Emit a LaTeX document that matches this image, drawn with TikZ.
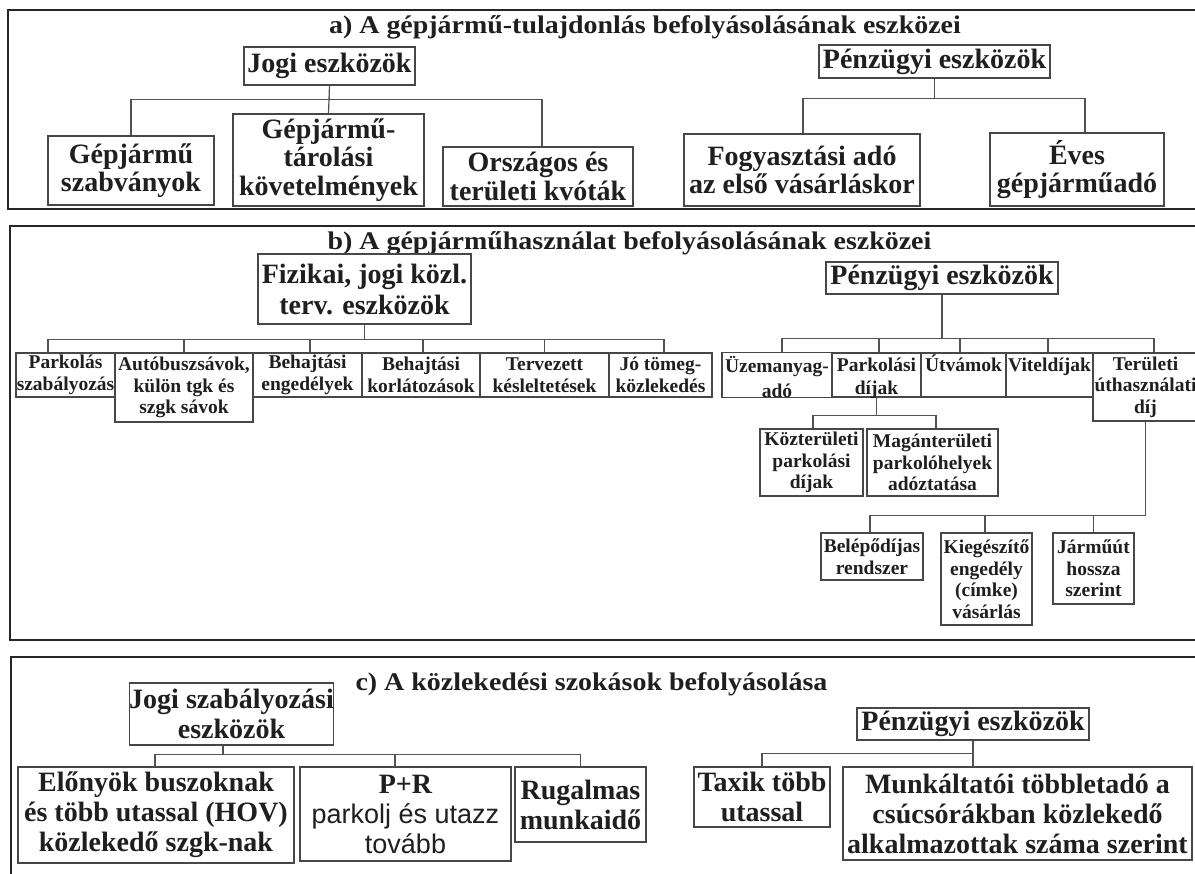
\documentclass[tikz,border=0pt]{standalone}
\usepackage{fontspec}
\setmainfont{Liberation Serif}
\newfontfamily\arialf{Liberation Sans}
\newfontfamily\widefont{Liberation Serif}[FakeStretch=1.1]
\begin{document}
\begin{tikzpicture}[x=1pt,y=-1pt,
  frame/.style={draw=black!85, line width=2.6pt},
  box/.style={draw=black!72, line width=1.3pt, inner sep=0pt, align=center, text=black!88,
    font=\bfseries\fontsize{28}{28.5}\selectfont},
  sbox/.style={box, font=\bfseries\fontsize{19.5}{21.5}\selectfont},
  sz/.style 2 args={minimum width=#1pt, minimum height=#2pt},
  conn/.style={draw=black!68, line width=1.2pt},
  ttl/.style={anchor=base, inner sep=0pt, text=black!88, font=\widefont\bfseries\fontsize{25.4}{27}\selectfont}
]
\useasboundingbox (0,0) rectangle (1195,874);
\clip (0,0) rectangle (1195,874);
\fill[white] (0,0) rectangle (1195,874);

% frames
\draw[frame] (1210,10) -- (8,10) -- (8,209) -- (1210,209);
\draw[frame] (1210,226) -- (10,226) -- (10,640) -- (1210,640);
\draw[frame] (1210,657) -- (11,657) -- (11,890);

% ---------- a) ----------
\node[ttl] (titleA) at (645,34) {a) A gépjármű-tulajdonlás befolyásolásának eszközei};
\node[box, sz={171}{38}] (jogiA) at (329.5,66) {Jogi eszközök};
\node[box, sz={166}{69}] (gepA) at (131,170.5) {Gépjármű\\szabványok};
\node[box, sz={191}{92}] (tarolA) at (328.5,160) {Gépjármű-\\tárolási\\követelmények};
\node[box, sz={190}{59}] (orszA) at (538,176.5) {Országos és\\területi kvóták};
\node[box, sz={231}{33}] (penzA) at (934.5,61.5) {Pénzügyi eszközök};
\node[box, sz={236}{72}] (fogyA) at (802,170) {Fogyasztási adó\\az első vásárláskor};
\node[box, sz={174}{73}] (evesA) at (1077,169.5) {Éves\\gépjárműadó};

\draw[conn] (jogiA.south) -- ++(0,14) -| (gepA.north);
\draw[conn] (jogiA.south) -- (tarolA.north);
\draw[conn] (jogiA.south) -- ++(0,14) -| ([xshift=4pt]orszA.north);
\draw[conn] (penzA.south) -- ++(0,20) -| ([xshift=1pt]fogyA.north);
\draw[conn] (penzA.south) -- ++(0,20) -| ([xshift=8pt]evesA.north);

% ---------- b) ----------
\node[ttl] (titleB) at (629.5,250) {b) A gépjárműhasználat befolyásolásának eszközei};
\node[box, sz={213}{70}, font=\bfseries\fontsize{28}{31}\selectfont] (fiz) at (364.5,289) {Fizikai, jogi közl.\\terv. eszközök};
\node[sbox, sz={99}{44}] (park) at (65.5,375) {Parkolás\\szabályozás};
\node[sbox, sz={138}{69}] (auto) at (184,387.5) {Autóbuszsávok,\\külön tgk és\\szgk sávok};
\node[sbox, sz={109}{44}] (beheng) at (307.5,375) {Behajtási\\engedélyek};
\node[sbox, sz={118}{44}] (behkorl) at (421,375) {Behajtási\\korlátozások};
\node[sbox, sz={129}{44}] (terv) at (544.5,375) {Tervezett\\késleltetések};
\node[sbox, sz={103}{44}] (jo) at (660.5,375) {Jó tömeg-\\közlekedés};

\draw[conn] (fiz.south) -- ++(0,15) -| ([xshift=-17.5pt]park.north);
\draw[conn] (fiz.south) -- ++(0,15) -| (auto.north);
\draw[conn] (fiz.south) -- ++(0,15) -| ([xshift=2.5pt]beheng.north);
\draw[conn] (fiz.south) -- ++(0,15) -| ([xshift=2pt]behkorl.north);
\draw[conn] (fiz.south) -- ++(0,15) -| (terv.north);
\draw[conn] (fiz.south) -- ++(0,15) -| ([xshift=3.5pt]jo.north);

\node[box, sz={232}{32}] (penzB) at (942,278) {Pénzügyi eszközök};
\node[sbox, sz={110}{44}, font=\bfseries\fontsize{19.5}{25}\selectfont, text height=45pt, text depth=-1pt] (uzem) at (777,375) {Üzemanyag-\\adó};
\node[sbox, sz={89}{44}, font=\bfseries\fontsize{19.5}{23}\selectfont, text height=42pt, text depth=2pt] (parkd) at (876.5,375) {Parkolási\\díjak};
\node[sbox, sz={85}{44}, text height=19pt, text depth=25pt] (utv) at (963.5,375) {Útvámok};
\node[sbox, sz={87}{44}, text height=19pt, text depth=25pt] (vitel) at (1049.5,375) {Viteldíjak};
\node[sbox, sz={105}{68}] (teru) at (1145.5,387) {Területi\\úthasználati\\díj};

\draw[conn] (penzB.south) -- ++(0,44) -| ([xshift=5pt]uzem.north);
\draw[conn] (penzB.south) -- ++(0,44) -| ([xshift=2.5pt]parkd.north);
\draw[conn] (penzB.south) -- ++(0,44) -| ([xshift=-3.5pt]utv.north);
\draw[conn] (penzB.south) -- ++(0,44) -| ([xshift=-1.5pt]vitel.north);
\draw[conn] (penzB.south) -- ++(0,44) -| ([xshift=8.5pt]teru.north);

\node[sbox, sz={103}{67}] (kozt) at (811.5,462.5) {Közterületi\\parkolási\\díjak};
\node[sbox, sz={131}{67}] (magan) at (932.5,462.5) {Magánterületi\\parkolóhelyek\\adóztatása};
\draw[conn] (parkd.south) -- ++(0,18) -| ([xshift=1.5pt]kozt.north);
\draw[conn] (parkd.south) -- ++(0,18) -| ([xshift=3.5pt]magan.north);

\node[sbox, sz={102}{47}] (belep) at (872,556.5) {Belépődíjas\\rendszer};
\node[sbox, sz={91}{92}] (kieg) at (986.5,579) {Kiegészítő\\engedély\\(címke)\\vásárlás};
\node[sbox, sz={81}{71}] (jarmu) at (1093.5,568.5) {Járműút\\hossza\\szerint};
\draw[conn] (teru.south) -- ++(0,94) -| ([xshift=-2pt]belep.north);
\draw[conn] (teru.south) -- ++(0,94) -| ([xshift=-1.5pt]kieg.north);
\draw[conn] (teru.south) -- ++(0,94) -| (jarmu.north);

% ---------- c) ----------
\node[ttl] (titleC) at (591.5,690) {c) A közlekedési szokások befolyásolása};
\node[box, sz={197}{62}, font=\bfseries\fontsize{28}{30}\selectfont] (jogiC) at (231.5,714) {Jogi szabályozási\\eszközök};
\node[box, sz={276}{96}, font=\bfseries\fontsize{28}{30}\selectfont] (elony) at (156,815) {Előnyök buszoknak\\és több utassal (HOV)\\közlekedő szgk-nak};
\node[box, sz={211}{94}, font=\bfseries\fontsize{28}{30}\selectfont] (prn) at (405.5,814) {P+R\\{\arialf\mdseries\fontsize{27}{30}\selectfont parkolj és utazz}\\{\arialf\mdseries\fontsize{27}{30}\selectfont tovább}};
\node[box, sz={131}{75}, font=\bfseries\fontsize{28}{30}\selectfont] (rug) at (580.5,804.5) {Rugalmas\\munkaidő};
\draw[conn] ([xshift=-8.5pt]jogiC.south) -- ++(0,9) -| ([xshift=-1pt]elony.north);
\draw[conn] ([xshift=-8.5pt]jogiC.south) -- ++(0,9) -| ([xshift=-10.5pt]prn.north);
\draw[conn] ([xshift=-8.5pt]jogiC.south) -- ++(0,9) -| (rug.north);

\node[box, sz={232}{32}] (penzC) at (973,724) {Pénzügyi eszközök};
\node[box, sz={136}{60}, font=\bfseries\fontsize{28}{30}\selectfont] (taxi) at (762,797) {Taxik több\\utassal};
\node[box, sz={349}{93}, font=\bfseries\fontsize{28}{30}\selectfont] (munk) at (1017.5,813.5) {Munkáltatói többletadó a\\csúcsórákban közlekedő\\alkalmazottak száma szerint};
\draw[conn] (penzC.south) -- ++(0,13) -| (taxi.north);
\draw[conn] (penzC.south) -- (penzC.south |- munk.north);
\end{tikzpicture}
\end{document}
